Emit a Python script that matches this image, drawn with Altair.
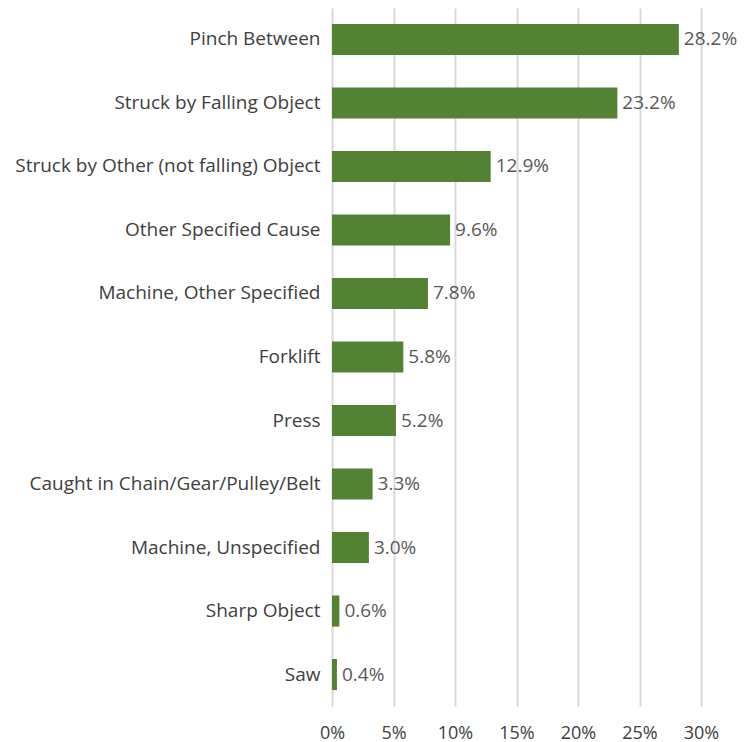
import altair as alt
import pandas as pd

causes = ["Pinch Between", "Struck by Falling Object", "Struck by Other (not falling) Object",
          "Other Specified Cause", "Machine, Other Specified", "Forklift", "Press",
          "Caught in Chain/Gear/Pulley/Belt", "Machine, Unspecified", "Sharp Object", "Saw"]
values = [28.2, 23.2, 12.9, 9.6, 7.8, 5.8, 5.2, 3.3, 3.0, 0.6, 0.4]

df = pd.DataFrame({"cause": causes, "value": [v / 100 for v in values],
                   "label": [f"{v:.1f}%" for v in values]})

FONT = "Open Sans"

y = alt.Y("cause:N", sort=causes, title=None,
          scale=alt.Scale(paddingInner=0.51, paddingOuter=0.25),
          axis=alt.Axis(domain=False, ticks=False, labelFontSize=19, labelColor="#404040",
                        labelFont=FONT, labelPadding=12, labelLimit=332))
x = alt.X("value:Q", title=None, scale=alt.Scale(domain=[0, 0.30], nice=False),
          axis=alt.Axis(format=".0%", values=[0, 0.05, 0.1, 0.15, 0.2, 0.25, 0.3],
                        domain=False, ticks=False, grid=True, gridColor="#d9d9d9", gridWidth=2,
                        labelFlush=False, labelBound=False, labelOverlap=False,
                        labelFontSize=18, labelColor="#404040", labelFont=FONT, labelPadding=18))

bars = alt.Chart(df).mark_bar(color="#548235").encode(x=x, y=y)
text = alt.Chart(df).mark_text(align="left", dx=5, fontSize=19, color="#595959", font=FONT).encode(
    x="value:Q", y=alt.Y("cause:N", sort=causes), text="label:N")

chart = (bars + text).properties(
    width=369, height=698,
    autosize=alt.AutoSizeParams(type="none"),
    padding={"left": 332, "top": 8, "right": 52, "bottom": 36},
).configure_view(stroke=None)

chart.save("out.html", embed_options={"renderer": "svg", "actions": False})
